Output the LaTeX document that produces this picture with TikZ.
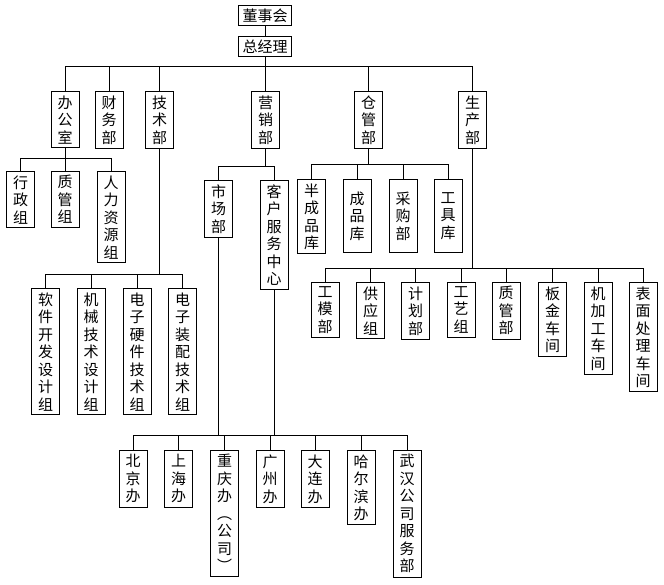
\documentclass[tikz,border=0pt]{standalone}
\usepackage{fontspec}
\newfontfamily\cjk{Noto Sans CJK SC}
\usetikzlibrary{positioning}
\tikzstyle{block} = [rectangle, draw, line width=0.9pt, anchor=north, align=center,
    minimum width=28pt, inner xsep=0pt, inner ysep=4pt,
    font=\cjk\fontsize{15}{17.5}\selectfont]
\tikzstyle{wide} = [block, inner xsep=4pt, inner ysep=3pt]
\tikzstyle{line} = [draw, line width=0.9pt]

\begin{document}
\begin{tikzpicture}[x=1pt, y=-1pt]
		\useasboundingbox (0,0) rectangle (664,584);
		% top
		\node [wide] (board) at (265,5) {董事会};
		\node [wide] (gm) at (265,36) {总经理};
		\coordinate (mainbus) at (265,66);
		% departments
		\node [block] (office) at (65,91) {办\\公\\室};
		\node [block] (finance) at (109,91) {财\\务\\部};
		\node [block] (tech) at (159.5,91) {技\\术\\部};
		\node [block] (sales) at (265.5,91) {营\\销\\部};
		\node [block] (store) at (368.5,91) {仓\\管\\部};
		\node [block] (prod) at (472.5,91) {生\\产\\部};
		% office
		\coordinate (officebus) at (65,158);
		\node [block] (admin) at (20.5,171) {行\\政\\组};
		\node [block] (qc) at (65,171) {质\\管\\组};
		\node [block] (hr) at (111,171) {人\\力\\资\\源\\组};
		% tech
		\coordinate (techbus) at (159.5,274);
		\node [block] (soft) at (45.5,288) {软\\件\\开\\发\\设\\计\\组};
		\node [block] (mech) at (91,288) {机\\械\\技\\术\\设\\计\\组};
		\node [block] (ehw) at (137,288) {电\\子\\硬\\件\\技\\术\\组};
		\node [block] (easm) at (182.5,288) {电\\子\\装\\配\\技\\术\\组};
		% sales
		\coordinate (salesbus) at (265.5,166);
		\node [block] (market) at (218.5,180) {市\\场\\部};
		\node [block] (service) at (274,180) {客\\户\\服\\务\\中\\心};
		\coordinate (citybus) at (246,435);
		\node [block] (bj) at (133,450) {北\\京\\办};
		\node [block] (sh) at (178.5,450) {上\\海\\办};
		\node [block] (cq) at (224.5,450) {重\\庆\\办\\︵\\公\\司\\︶};
		\node [block] (gz) at (270,450) {广\\州\\办};
		\node [block] (dl) at (315,450) {大\\连\\办};
		\node [block] (heb) at (361,450) {哈\\尔\\滨\\办};
		\node [block] (wh) at (407,450) {武\\汉\\公\\司\\服\\务\\部};
		% store
		\coordinate (storebus) at (368.5,164);
		\node [block, minimum height=73pt] (semi) at (311.5,179) {半\\成\\品\\库};
		\node [block, minimum height=73pt] (goods) at (357,179) {成\\品\\库};
		\node [block, minimum height=73pt] (purch) at (403,179) {采\\购\\部};
		\node [block, minimum height=73pt] (tool) at (448,179) {工\\具\\库};
		% production
		\coordinate (prodbus) at (472.5,268);
		\node [block] (mold) at (325,282) {工\\模\\部};
		\node [block] (supply) at (370.5,282) {供\\应\\组};
		\node [block] (plan) at (415.5,282) {计\\划\\部};
		\node [block] (craft) at (461,282) {工\\艺\\组};
		\node [block] (qm) at (506,282) {质\\管\\部};
		\node [block] (sheet) at (552.5,282) {板\\金\\车\\间};
		\node [block] (mach) at (598,282) {机\\加\\工\\车\\间};
		\node [block] (surf) at (643,282) {表\\面\\处\\理\\车\\间};

		\path [line] (board) -- (gm);
		\path [line] (gm) -- (mainbus);
		\foreach \d in {office,finance,tech,sales,store,prod}
			\path [line] (mainbus) -| (\d.north);
		\path [line] (office) -- (officebus);
		\foreach \d in {admin,qc,hr}
			\path [line] (officebus) -| (\d.north);
		\path [line] (tech) -- (techbus);
		\foreach \d in {soft,mech,ehw,easm}
			\path [line] (techbus) -| (\d.north);
		\path [line] (sales) -- (salesbus);
		\foreach \d in {market,service}
			\path [line] (salesbus) -| (\d.north);
		\path [line] (market.south) -- (market.south |- citybus);
		\path [line] (service.south) -- (service.south |- citybus);
		\foreach \d in {bj,sh,cq,gz,dl,heb,wh}
			\path [line] (citybus) -| (\d.north);
		\path [line] (store) -- (storebus);
		\foreach \d in {semi,goods,purch,tool}
			\path [line] (storebus) -| (\d.north);
		\path [line] (prod) -- (prodbus);
		\foreach \d in {mold,supply,plan,craft,qm,sheet,mach,surf}
			\path [line] (prodbus) -| (\d.north);
	\end{tikzpicture}
\end{document}
